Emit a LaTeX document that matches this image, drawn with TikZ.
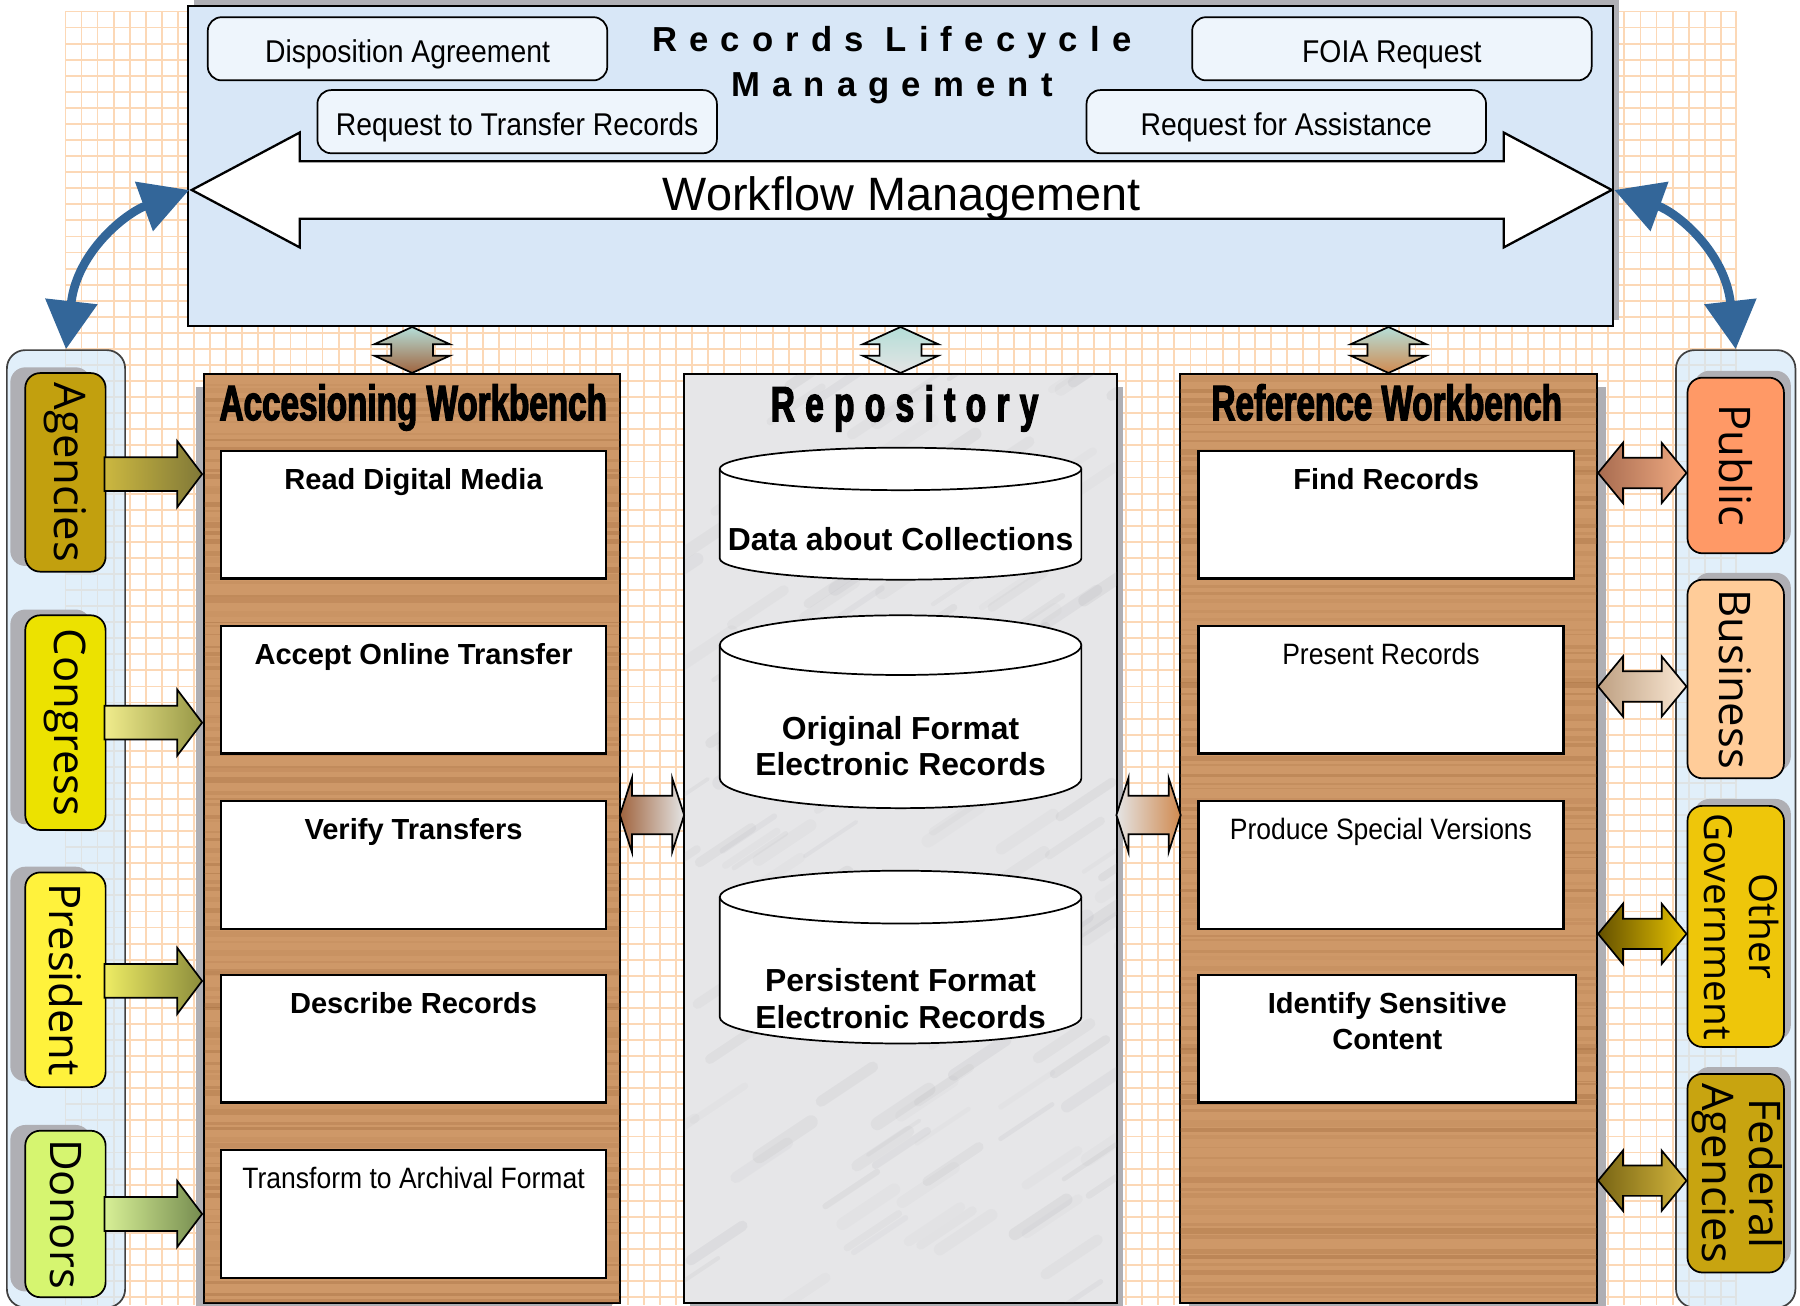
\documentclass[tikz,border=0pt]{standalone}
\usepackage{fontspec}
\usepackage{graphicx}
\setmainfont{Liberation Sans}
\newfontfamily\narrowfont[FakeStretch=0.9]{Liberation Sans}
\newfontfamily\pillfont{Open Sans}
\newfontfamily\headfont[FakeStretch=0.67,FakeBold=2.5]{Liberation Sans}
\newfontfamily\repofont[FakeStretch=0.67,FakeBold=2.5,LetterSpace=21]{Liberation Sans}
\newfontfamily\spacedfont[LetterSpace=35]{Liberation Sans}
\usetikzlibrary{shapes.arrows,shadows,calc,arrows.meta}

\definecolor{gridc}{RGB}{252,216,182}
\definecolor{skyc}{RGB}{216,231,247}
\definecolor{reqc}{RGB}{238,245,252}
\definecolor{panelc}{RGB}{212,232,248}
\definecolor{woodc}{RGB}{206,152,104}
\definecolor{grainc}{RGB}{140,85,40}
\definecolor{marblec}{RGB}{230,230,232}
\definecolor{streakc}{RGB}{130,130,135}
\definecolor{flowblue}{RGB}{51,102,153}
\definecolor{shadowc}{RGB}{175,175,180}
\definecolor{agencyc}{RGB}{194,160,14}
\definecolor{congressc}{RGB}{236,226,0}
\definecolor{presidentc}{RGB}{255,242,60}
\definecolor{donorc}{RGB}{214,245,112}
\definecolor{publicc}{RGB}{255,153,102}
\definecolor{businessc}{RGB}{255,204,153}
\definecolor{othergovc}{RGB}{238,198,10}
\definecolor{federalc}{RGB}{200,164,16}
\definecolor{tealc}{RGB}{180,222,216}
\definecolor{brownc}{RGB}{160,100,62}
\definecolor{lgrayc}{RGB}{228,228,228}
\definecolor{orangec}{RGB}{208,138,80}
\definecolor{agone}{RGB}{204,184,64}
\definecolor{agtwo}{RGB}{128,120,56}
\definecolor{coone}{RGB}{240,236,140}
\definecolor{cotwo}{RGB}{150,150,70}
\definecolor{prone}{RGB}{238,236,100}
\definecolor{prtwo}{RGB}{140,140,60}
\definecolor{doone}{RGB}{215,240,150}
\definecolor{dotwo}{RGB}{118,140,80}
\definecolor{puone}{RGB}{168,108,80}
\definecolor{putwo}{RGB}{240,170,130}
\definecolor{buone}{RGB}{190,160,130}
\definecolor{butwo}{RGB}{250,232,212}
\definecolor{ogone}{RGB}{100,80,0}
\definecolor{ogtwo}{RGB}{232,196,0}
\definecolor{feone}{RGB}{120,100,20}
\definecolor{fetwo}{RGB}{212,182,60}

\newcommand\wbbold{\bfseries\fontsize{7.2}{9.1}\selectfont}
\newcommand\wbnarrow{\narrowfont\fontsize{7.3}{9.1}\selectfont}
% #1 slot node, #2 y radius of the ends
\newcommand\dbcylinder[2]{%
  \filldraw[dbshape] ([yshift=-#2]#1.north west) -- ([yshift=#2]#1.south west)
    arc[start angle=180,end angle=360,x radius=15.75mm,y radius=#2]
    -- ([yshift=-#2]#1.north east)
    arc[start angle=0,end angle=180,x radius=15.75mm,y radius=#2] -- cycle;
  \draw[dbshape] ([yshift=-#2]#1.north west)
    arc[start angle=180,end angle=360,x radius=15.75mm,y radius=#2];
}

\begin{document}
\begin{tikzpicture}[x=0.1mm,y=-0.1mm,
  gridline/.style={draw=gridc,line width=0.16mm},
  topbox/.style={draw,fill=skyc,line width=0.15mm,inner sep=0,
    drop shadow={shadow xshift=0.5mm,shadow yshift=0.5mm,fill=shadowc,opacity=1}},
  titletext/.style={align=center,font=\spacedfont\bfseries\fontsize{8.6}{11.2}\selectfont},
  reqbox/.style={draw,fill=reqc,rounded corners=1.2mm,line width=0.15mm,
    minimum width=34.8mm,minimum height=5.5mm,inner sep=0,text height=2.8mm,text depth=0.34mm,
    font=\narrowfont\fontsize{7.8}{9}\selectfont},
  flowarrow/.style={double arrow,draw,fill=white,line width=0.2mm,
    minimum height=123.7mm,minimum width=9.8mm,double arrow head extend=2.5mm,
    double arrow tip angle=56,inner sep=0,text height=4.22mm,text depth=0.58mm,
    font=\fontsize{11.6}{14}\selectfont},
  sidepanel/.style={draw=black!75,fill=panelc,fill opacity=0.7,
    rounded corners=1.6mm,line width=0.15mm,inner sep=0},
  woodpanel/.style={draw,fill=woodc,line width=0.2mm,minimum height=80.9mm,inner sep=0},
  headtext/.style={anchor=base,font=\headfont\bfseries\fontsize{12.3}{14}\selectfont},
  wbox/.style={draw,fill=white,line width=0.2mm,anchor=north,inner sep=0,
    minimum height=11.1mm,text height=3.3mm,text depth=7.8mm},
  dbslot/.style={minimum width=31.5mm,inner sep=0,outer sep=0},
  dbshape/.style={draw,fill=white,line width=0.15mm},
  dbtext/.style={align=center,font=\bfseries\fontsize{7.9}{9.1}\selectfont},
  pill/.style={draw,rounded corners=1.3mm,line width=0.15mm,inner sep=0,
    font=\pillfont\fontsize{10.8}{11.6}\selectfont},
  lpill/.style={pill,minimum width=7mm,
    drop shadow={shadow xshift=-1.3mm,shadow yshift=0.5mm,fill=shadowc,opacity=1}},
  rpill/.style={pill,minimum width=8.4mm,
    drop shadow={shadow xshift=0.6mm,shadow yshift=0.6mm,fill=shadowc,opacity=1}},
  inarrow/.style={single arrow,draw,line width=0.15mm,minimum height=8.5mm,
    minimum width=5.6mm,inner xsep=0,inner ysep=1.4mm,anchor=tip,
    single arrow head extend=1.4mm,single arrow tip angle=106},
  outarrow/.style={double arrow,draw,line width=0.15mm,minimum height=7.7mm,
    minimum width=5.1mm,inner xsep=0,inner ysep=1.25mm,
    double arrow head extend=1.3mm,double arrow tip angle=101,yshift=-0.65mm},
  vdarrow/.style={double arrow,rotate=90,draw,line width=0.15mm,
    minimum height=4mm,minimum width=6.4mm,inner xsep=0,inner ysep=1.75mm,
    double arrow head extend=1.45mm,double arrow tip angle=131},
  hdarrow/.style={double arrow,draw,line width=0.15mm,minimum height=5.6mm,
    minimum width=6.3mm,inner xsep=0,inner ysep=1.6mm,
    double arrow head extend=1.55mm,double arrow tip angle=144,yshift=2.05mm},
  bluearrow/.style={draw=flowblue,line width=0.75mm,
    {Triangle[length=4.2mm,width=4.4mm]}-{Triangle[length=4.2mm,width=4.4mm]}}]

\useasboundingbox (0,0) rectangle (1568,1137);

% background grid
\foreach \x in {57,71,...,1512} \draw[gridline] (\x,10) -- (\x,1137);
\draw[gridline] (1512,10) -- (1512,1137);
\foreach \y in {10,24,...,1137} \draw[gridline] (57,\y) -- (1512,\y);

% side panels
\node[sidepanel,minimum width=10.3mm,minimum height=83.4mm] (lpanel) at (57.5,722) {};
\node[sidepanel,minimum width=10.4mm,minimum height=83.4mm] (rpanel) at (1512,722) {};

% records lifecycle management
\node[topbox,minimum width=124.1mm,minimum height=27.9mm] (lifecycle) at (784.5,144.5) {};
\node[titletext] (title) at (777,57) {Records Lifecycle\\Management};
\node[reqbox] (disposition) at (355,42.5) {Disposition Agreement};
\node[reqbox] (transfer) at (450.5,106) {Request to Transfer Records};
\node[reqbox] (foia) at (1212.5,42.5) {FOIA Request};
\node[reqbox] (assistance) at (1120.5,106) {Request for Assistance};
\node[flowarrow] (flow) at (785.5,165.5) {Workflow Management};

\draw[bluearrow] (lpanel.north) .. controls +(9.5,-85) and +(-55,20) .. (flow.west);
\draw[bluearrow] (rpanel.north) .. controls +(-9.5,-85) and +(55,20) .. (flow.east);

% workbenches and repository
\node[woodpanel,minimum width=36.2mm,
  drop shadow={shadow xshift=-0.7mm,shadow yshift=-1.1mm,fill=shadowc,opacity=1}] (acc) at (359,730.5) {};
\node[draw,fill=marblec,line width=0.2mm,minimum width=37.7mm,minimum height=80.9mm,inner sep=0,
  drop shadow={shadow xshift=0.5mm,shadow yshift=-1.1mm,fill=shadowc,opacity=1}] (repo) at (784.5,730.5) {};
\node[woodpanel,minimum width=36.3mm,
  drop shadow={shadow xshift=0.8mm,shadow yshift=-1.1mm,fill=shadowc,opacity=1}] (ref) at (1209.5,730.5) {};

\pgfmathsetseed{7}
\foreach \pn/\xa/\xb in {acc/178/540,ref/1028/1391}{
  \begin{scope}
    \clip ([shift={(1,-1)}]\pn.south west) rectangle ([shift={(-1,1)}]\pn.north east);
    \foreach \i in {0,...,110}{
      \pgfmathsetmacro\yy{330+7.4*\i+6*rnd}
      \pgfmathsetmacro\op{0.04+0.22*rnd}
      \pgfmathsetmacro\lw{0.1+0.45*rnd}
      \draw[draw=grainc,opacity=\op,line width=\lw mm] (\xa,\yy) -- (\xb,\yy);
    }
  \end{scope}
}
\begin{scope}
  \clip ([shift={(1,-1)}]repo.south west) rectangle ([shift={(-1,1)}]repo.north east);
  \foreach \i in {1,...,140}{
    \pgfmathsetmacro\xx{560+420*rnd}
    \pgfmathsetmacro\yy{330+820*rnd}
    \pgfmathsetmacro\op{0.03+0.07*rnd}
    \pgfmathsetmacro\lw{0.3+0.9*rnd}
    \draw[draw=streakc,opacity=\op,line width=\lw mm,line cap=round] (\xx,\yy) -- ++(45,-30);
  }
\end{scope}

\node[headtext] (acctitle) at (360,366) {Accesioning Workbench};
\node[headtext,font=\repofont\bfseries\fontsize{12.3}{14}\selectfont] (repotitle) at (788,367) {Repository};
\node[headtext] (reftitle) at (1208,366) {Reference Workbench};

\node[wbox,minimum width=33.55mm,font=\wbbold] (readmedia) at (360.25,392) {Read Digital Media};
\node[wbox,minimum width=33.55mm,font=\wbbold] (accept) at (360.25,544.5) {Accept Online Transfer};
\node[wbox,minimum width=33.55mm,font=\wbbold] (verify) at (360.25,697) {Verify Transfers};
\node[wbox,minimum width=33.55mm,font=\wbbold] (describe) at (360.25,848.5) {Describe Records};
\node[wbox,minimum width=33.55mm,font=\wbnarrow] (transform) at (360.25,1001) {Transform to Archival Format};

\node[wbox,minimum width=32.7mm,font=\wbbold] (find) at (1207.5,392) {Find Records};
\node[wbox,minimum width=31.8mm,font=\wbnarrow] (present) at (1203,544.5) {Present Records};
\node[wbox,minimum width=31.8mm,font=\wbnarrow] (produce) at (1203,697) {Produce Special Versions};
\node[wbox,minimum width=32.9mm,font=\wbbold,align=center,
  text height=6.5mm,text depth=4.6mm] (identify) at (1208.5,848.5) {Identify Sensitive\\Content};

\node[dbslot,minimum height=11.5mm] (data) at (784.5,447.5) {};
\node[dbslot,minimum height=16.8mm] (original) at (784.5,620) {};
\node[dbslot,minimum height=15.05mm] (persistent) at (784.5,833.75) {};
\dbcylinder{data}{1.85mm}
\dbcylinder{original}{2.6mm}
\dbcylinder{persistent}{2.3mm}
\node[dbtext] (datatext) at ([yshift=-2.25mm]data.center) {Data about Collections};
\node[dbtext] (originaltext) at ([yshift=-3mm]original.center) {Original Format\\Electronic Records};
\node[dbtext] (persistenttext) at ([yshift=-3.6mm]persistent.center) {Persistent Format\\Electronic Records};

% sources and users
\node[lpill,fill=agencyc,minimum height=17.3mm] (agencies) at (57,411.5) {\rotatebox{-90}{Agencies}};
\node[lpill,fill=congressc,minimum height=18.7mm] (congress) at (57,629.5) {\rotatebox{-90}{Congress}};
\node[lpill,fill=presidentc,minimum height=18.7mm] (president) at (57,853.5) {\rotatebox{-90}{President}};
\node[lpill,fill=donorc,minimum height=14.5mm] (donors) at (57,1057.5) {\rotatebox{-90}{Donors}};
\node[rpill,fill=publicc,minimum height=15.3mm] (public) at (1512,405.5) {\rotatebox{-90}{Public}};
\node[rpill,fill=businessc,minimum height=17.3mm] (business) at (1512,591.5) {\rotatebox{-90}{Business}};
\node[rpill,fill=othergovc,minimum height=21mm,font=\pillfont\fontsize{9.6}{11.2}\selectfont] (othergov) at (1512,807)
  {\rotatebox{-90}{\begin{tabular}{@{}c@{}}Other\\Government\end{tabular}}};
\node[rpill,fill=federalc,minimum height=17.3mm] (federal) at (1512,1022)
  {\rotatebox{-90}{\begin{tabular}{@{}c@{}}Federal\\Agencies\end{tabular}}};

% block arrows
\node[inarrow,left color=agone,right color=agtwo] (agarrow) at ([yshift=-0.15mm]agencies.east -| acc.west) {};
\node[inarrow,left color=coone,right color=cotwo] (coarrow) at (congress.east -| acc.west) {};
\node[inarrow,left color=prone,right color=prtwo] (prarrow) at ([yshift=-0.1mm]president.east -| acc.west) {};
\node[inarrow,left color=doone,right color=dotwo] (doarrow) at (donors.east -| acc.west) {};
\node[outarrow,left color=puone,right color=putwo] (puarrow) at ($(public.west)!0.5!(public.west -| ref.east)$) {};
\node[outarrow,left color=buone,right color=butwo] (buarrow) at ($(business.west)!0.5!(business.west -| ref.east)$) {};
\node[outarrow,left color=ogone,right color=ogtwo] (ogarrow) at ($(othergov.west)!0.5!(othergov.west -| ref.east)$) {};
\node[outarrow,left color=feone,right color=fetwo] (fearrow) at ($(federal.west)!0.5!(federal.west -| ref.east)$) {};

\node[vdarrow,top color=tealc,bottom color=brownc] (accup) at ($(acc.north)!0.5!(acc.north |- lifecycle.south)$) {};
\node[vdarrow,top color=tealc,bottom color=lgrayc] (repoup) at ($(repo.north)!0.5!(repo.north |- lifecycle.south)$) {};
\node[vdarrow,top color=tealc,bottom color=orangec] (refup) at ($(ref.north)!0.5!(ref.north |- lifecycle.south)$) {};
\node[hdarrow,left color=brownc,right color=lgrayc] (accrepo) at ($(acc.east)!0.5!(repo.west)$) {};
\node[hdarrow,left color=lgrayc,right color=orangec] (reporef) at ($(repo.east)!0.5!(ref.west)$) {};
\end{tikzpicture}
\end{document}
